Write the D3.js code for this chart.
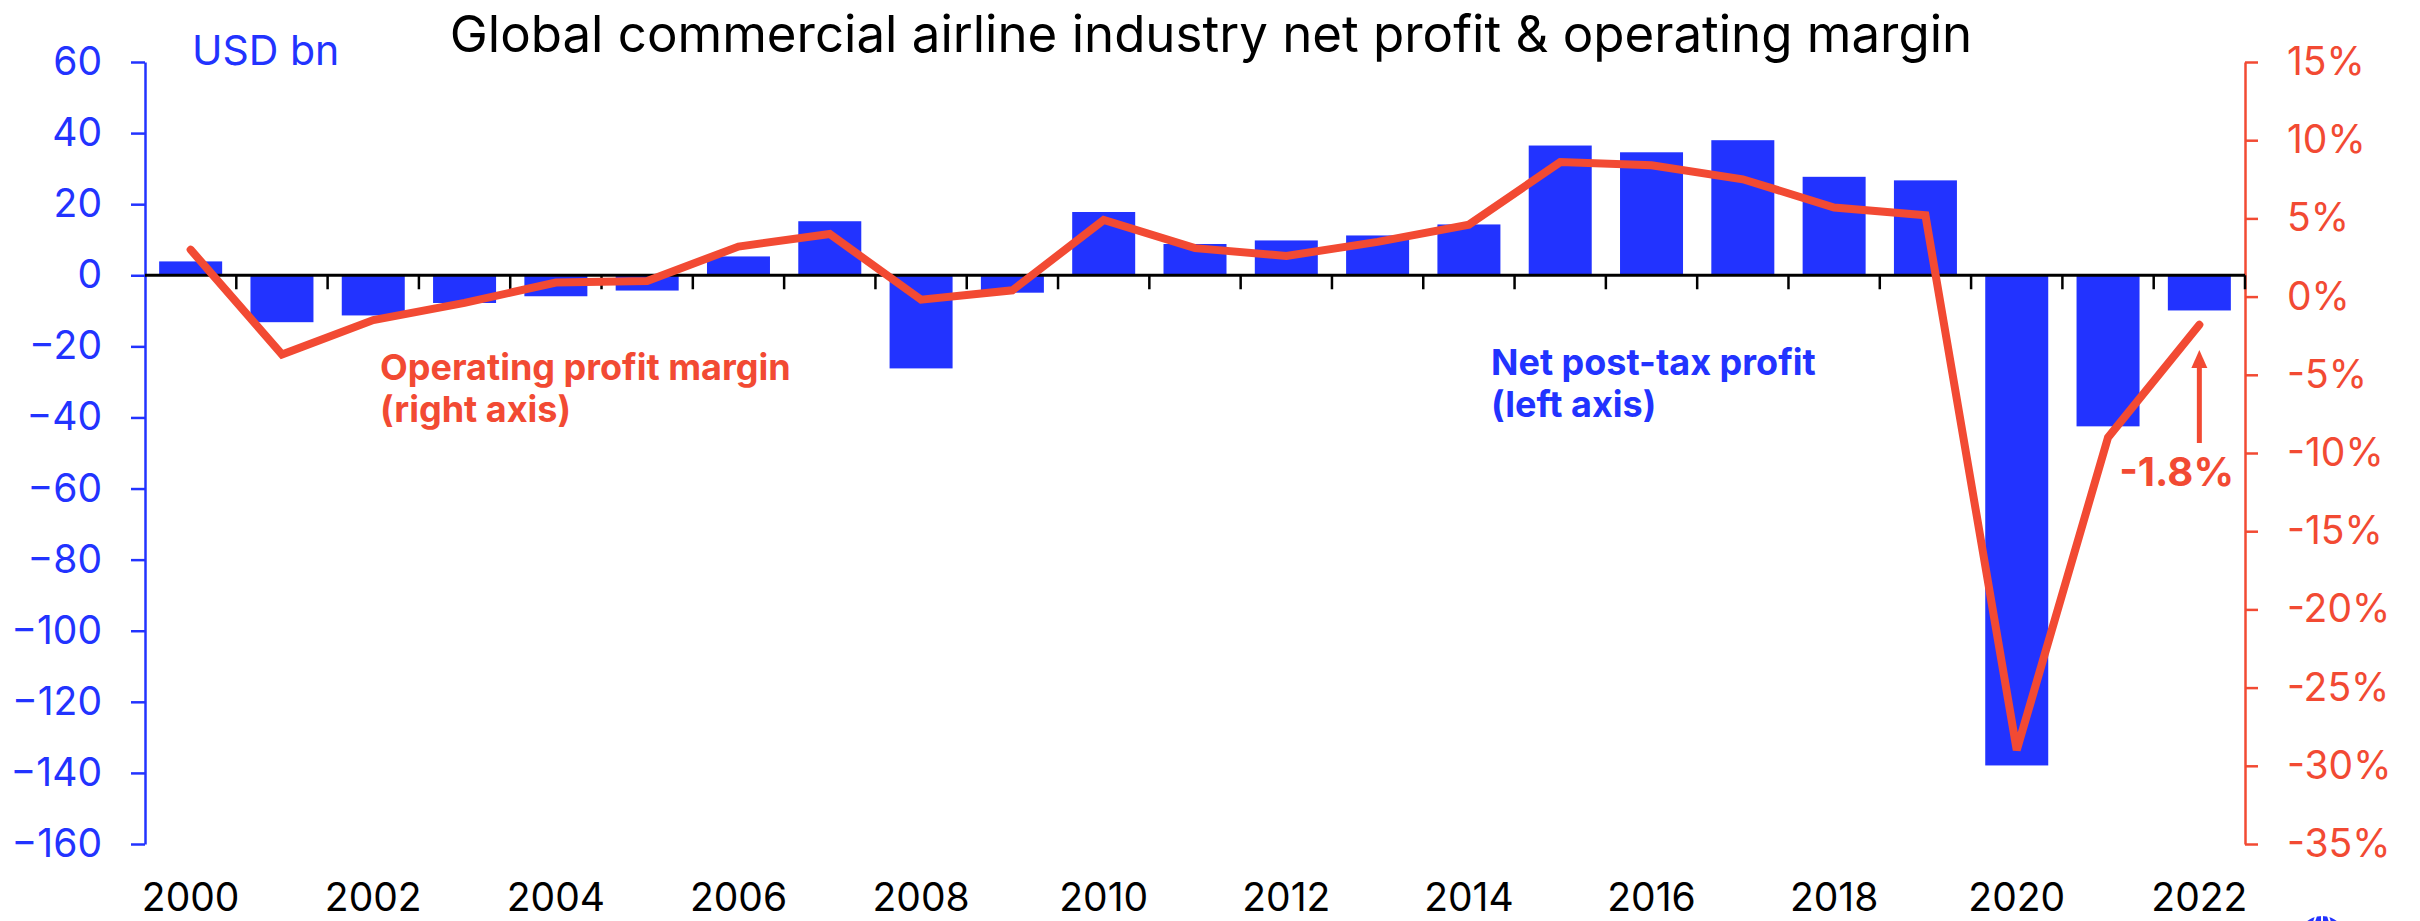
<!DOCTYPE html>
<html>
<head>
<meta charset="utf-8">
<script src="https://cdn.jsdelivr.net/npm/d3@7"></script>
<style>
  html, body { margin: 0; padding: 0; background: #fff; }
  svg { display: block; font-family: Inter, "Liberation Sans", sans-serif; }
</style>
</head>
<body>
<div id="chart"></div>
<script>
// data
const years = d3.range(2000, 2023);
const netProfit = [3.9, -13.2, -11.3, -7.8, -5.9, -4.3, 5.3, 15.2, -26.2, -4.9, 17.8, 8.8, 9.8, 11.2, 14.3, 36.5, 34.6, 38.0, 27.7, 26.7, -137.9, -42.5, -9.9];
const opMargin = [3.0, -3.7, -1.5, -0.4, 0.9, 1.0, 3.2, 4.0, -0.2, 0.4, 4.9, 3.1, 2.6, 3.5, 4.6, 8.6, 8.4, 7.5, 5.7, 5.2, -29.0, -9.0, -1.8];
const leftTicks = d3.range(-160, 61, 20);
const rightTicks = d3.range(-35, 16, 5);
const yearLabels = d3.range(2000, 2023, 2);

const width = 2420, height = 921;
const blue = "#2233ff", red = "#f24a33";

const svg = d3.select("#chart")
  .append("svg")
    .attr("width", width)
    .attr("height", height);

const x = d3.scaleBand()
  .domain(years)
  .range([145, 2245])
  .paddingInner(0.31)
  .paddingOuter(0.155);

const yL = d3.scaleLinear().domain([-160, 60]).range([844, 62]);
const yR = d3.scaleLinear().domain([-35, 15]).range([844, 62]);

// title
svg.append("text")
  .attr("x", 1211)
  .attr("y", 52)
  .attr("text-anchor", "middle")
  .style("font-size", "51px")
  .style("fill", "#000")
  .text("Global commercial airline industry net profit & operating margin");

svg.append("text")
  .attr("x", 192)
  .attr("y", 65)
  .style("font-size", "41px")
  .style("fill", blue)
  .text("USD bn");

// bars
svg.selectAll("rect.bar")
  .data(years)
  .join("rect")
    .attr("class", "bar")
    .attr("x", d => x(d))
    .attr("width", x.bandwidth())
    .attr("y", (d, i) => yL(Math.max(0, netProfit[i])))
    .attr("height", (d, i) => Math.abs(yL(netProfit[i]) - yL(0)))
    .attr("fill", blue);

// left axis
const leftAxis = svg.append("g")
  .attr("transform", "translate(145,0)")
  .call(d3.axisLeft(yL).tickValues(leftTicks).tickSize(14).tickSizeOuter(0).tickPadding(29));
leftAxis.selectAll("path, line").attr("stroke", blue).attr("stroke-width", 2.5);
leftAxis.selectAll("text")
  .attr("fill", blue)
  .style("font-size", "39px")
  .style("font-family", "Inter, 'Liberation Sans', sans-serif");

// right axis
const rightAxis = svg.append("g")
  .attr("transform", "translate(2245,0)")
  .call(d3.axisRight(yR).tickValues(rightTicks).tickSize(13).tickSizeOuter(0).tickPadding(29)
    .tickFormat(d => d + "%"));
rightAxis.selectAll("path, line").attr("stroke", red).attr("stroke-width", 2.5);
rightAxis.selectAll("text")
  .attr("fill", red)
  .style("font-size", "39px")
  .style("font-family", "Inter, 'Liberation Sans', sans-serif");

// zero line with year ticks
const zeroAxis = svg.append("g")
  .attr("transform", `translate(0,${yL(0)})`);
zeroAxis.append("line")
  .attr("x1", 145).attr("x2", 2245)
  .attr("stroke", "#000").attr("stroke-width", 3);
zeroAxis.selectAll("line.tk")
  .data(years.slice(1).concat([2023]))
  .join("line")
    .attr("class", "tk")
    .attr("x1", d => d === 2023 ? 2245 : x(d) - x.step() * x.paddingInner() / 2)
    .attr("x2", d => d === 2023 ? 2245 : x(d) - x.step() * x.paddingInner() / 2)
    .attr("y1", 0).attr("y2", 14)
    .attr("stroke", "#000").attr("stroke-width", 2.5);

// year labels at the bottom
const xAxis = svg.append("g")
  .attr("transform", "translate(0,877)")
  .call(d3.axisBottom(x).tickValues(yearLabels).tickSize(0).tickPadding(0));
xAxis.select(".domain").remove();
xAxis.selectAll("text")
  .attr("dy", "0.86em")
  .attr("fill", "#000")
  .style("font-size", "39px")
  .style("font-family", "Inter, 'Liberation Sans', sans-serif");

// margin line
const line = d3.line()
  .x((d, i) => x(years[i]) + x.bandwidth() / 2)
  .y(d => yR(d));

svg.append("path")
  .datum(opMargin)
  .attr("d", line)
  .attr("fill", "none")
  .attr("stroke", red)
  .attr("stroke-width", 8)
  .attr("stroke-linecap", "round")
  .attr("stroke-linejoin", "miter");

// annotations
const redNote = svg.append("text")
  .attr("x", 380).attr("y", 380)
  .style("font-size", "36px").style("font-weight", "bold")
  .style("fill", red);
redNote.append("tspan").attr("x", 380).text("Operating profit margin");
redNote.append("tspan").attr("x", 380).attr("dy", 42).text("(right axis)");

const blueNote = svg.append("text")
  .attr("x", 1491).attr("y", 375)
  .style("font-size", "36px").style("font-weight", "bold")
  .style("fill", blue);
blueNote.append("tspan").attr("x", 1491).text("Net post-tax profit");
blueNote.append("tspan").attr("x", 1491).attr("dy", 42).text("(left axis)");

const ax = x(2022) + x.bandwidth() / 2;
svg.append("line")
  .attr("x1", ax).attr("x2", ax)
  .attr("y1", 443).attr("y2", 364)
  .attr("stroke", red).attr("stroke-width", 5);
svg.append("path")
  .attr("d", `M${ax},350 L${ax - 8},368 L${ax + 8},368 Z`)
  .attr("fill", red);

svg.append("text")
  .attr("x", 2234).attr("y", 486)
  .attr("text-anchor", "end")
  .style("font-size", "40px").style("font-weight", "bold")
  .style("fill", red)
  .text("-1.8%");

// logo peeking in at the bottom right
const logo = svg.append("g").attr("transform", "translate(2322,940)");
logo.append("circle").attr("r", 24).attr("fill", blue);
logo.append("line").attr("x1", 0).attr("x2", 0).attr("y1", -24).attr("y2", 24).attr("stroke", "#fff").attr("stroke-width", 2);
logo.append("line").attr("x1", -6).attr("x2", -14).attr("y1", -24).attr("y2", 0).attr("stroke", "#fff").attr("stroke-width", 2);
logo.append("line").attr("x1", 6).attr("x2", 14).attr("y1", -24).attr("y2", 0).attr("stroke", "#fff").attr("stroke-width", 2);
</script>
</body>
</html>
